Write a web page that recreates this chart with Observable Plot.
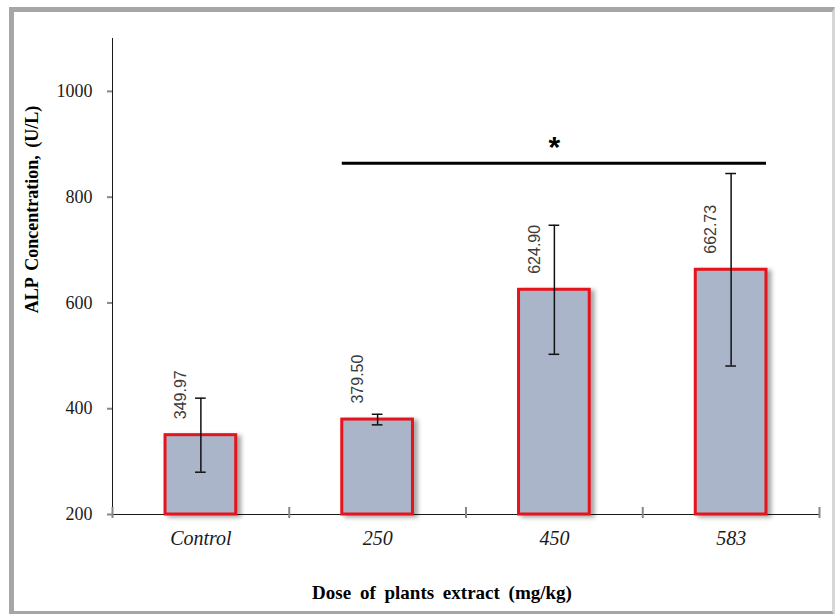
<!DOCTYPE html>
<html>
<head>
<meta charset="utf-8">
<script src="https://cdn.jsdelivr.net/npm/d3@7"></script>
<script src="https://cdn.jsdelivr.net/npm/@observablehq/plot@0.6"></script>
<style>
  html, body { margin: 0; padding: 0; background: #fff; }
  #wrap { position: relative; width: 835px; height: 614px; overflow: hidden; }
  #frame { position: absolute; left: 9px; top: 7px; width: 818px; height: 599px;
           border: 5px solid #a6a6a6; border-right: 3px solid #d6d6d6; }
  #chart { position: absolute; left: 0; top: 0; }
  #chart svg { background: transparent !important; }
  [aria-label^="y-axis"] line, [aria-label^="y-axis"] path,
  [aria-label^="x-axis"] line, [aria-label^="x-axis"] path { stroke: #878787; stroke-width: 2px; }
  [aria-label^="y-axis"] text { fill: #1a1a1a; font-family: "Liberation Serif", serif; font-size: 18px; }
  [aria-label^="x-axis"] text { fill: #1a1a1a; font-family: "Liberation Serif", serif; font-size: 20px; font-style: italic; }
  g[aria-label="bar"] rect { filter: drop-shadow(4px 2px 2px rgba(0,0,0,0.35)); }
  g[aria-description="x-title"] text { word-spacing: 4px; }
  g[aria-description="y-title"] text { word-spacing: 3px; }
</style>
</head>
<body>
<div id="wrap"><div id="frame"></div><div id="chart"></div></div>
<script>
// ---- data ----
const categories = ["Control", "250", "450", "583"];
const means = [349.97, 379.50, 624.90, 662.73];
const sds = [70, 10, 122, 182];
const yTicks = [200, 400, 600, 800, 1000];
const yDomain = [200, 1100];
const sigFrom = "250";
const sigTo = "583";
const sigAt = "450";
const sigY = 864;
const sigLabel = "*";
const xTitle = "Dose of plants extract (mg/kg)";
const yTitle = "ALP Concentration, (U/L)";

// ---- layout ----
const W = 835, H = 614;
const mL = 112, mR = 16, mT = 38, mB = 100;
const step = (W - mL - mR) / categories.length;

const rows = categories.map((c, i) => ({cat: c, mean: means[i], sd: sds[i]}));
const sig = [{from: sigFrom, to: sigTo, at: sigAt, y: sigY, label: sigLabel}];
const lastCat = [categories[categories.length - 1]];

const chart = Plot.plot({
  width: W,
  height: H,
  marginLeft: mL,
  marginRight: mR,
  marginTop: mT,
  marginBottom: mB,
  style: {fontFamily: "Liberation Serif, serif", fontSize: "18px", color: "#1a1a1a", background: "transparent", overflow: "visible"},
  x: {type: "band", domain: categories, paddingInner: 0.6, paddingOuter: 0.3, round: false,
      tickSize: 0, tickPadding: 16, line: true, label: null},
  y: {domain: yDomain, ticks: yTicks, tickFormat: d => String(d), tickSize: 5, tickPadding: 15,
      line: true, label: null},
  marks: [
    // category boundary ticks on the x axis
    Plot.ruleX(categories, {x: d => d, dx: -step / 2, y1: () => yDomain[0], y2: () => yDomain[0],
      insetTop: -7, insetBottom: -4, stroke: "#878787", strokeWidth: 2}),
    Plot.ruleX(lastCat, {x: d => d, dx: step / 2, y1: () => yDomain[0], y2: () => yDomain[0],
      insetTop: -7, insetBottom: -4, stroke: "#878787", strokeWidth: 2}),
    // bars
    Plot.barY(rows, {x: "cat", y1: () => yDomain[0], y2: "mean",
      fill: "#aab5c9", stroke: "#e5141c", strokeWidth: 3}),
    // error bars
    Plot.ruleX(rows, {x: "cat", y1: d => d.mean - d.sd, y2: d => d.mean + d.sd, stroke: "#111", strokeWidth: 1.5}),
    Plot.tickY(rows, {x: "cat", y: d => d.mean - d.sd, insetLeft: 30, insetRight: 30, stroke: "#111", strokeWidth: 1.5}),
    Plot.tickY(rows, {x: "cat", y: d => d.mean + d.sd, insetLeft: 30, insetRight: 30, stroke: "#111", strokeWidth: 1.5}),
    // value labels
    Plot.text(rows, {x: "cat", y: "mean", text: d => d.mean.toFixed(2), rotate: -90, textAnchor: "start",
      dx: -20, dy: -16, fontSize: 16, fontFamily: "Liberation Sans, sans-serif", fill: "#3a3a3a"}),
    // significance bracket
    Plot.ruleY(sig, {y: "y", x1: "from", x2: "to", stroke: "#000", strokeWidth: 3}),
    Plot.text(sig, {x: "at", y: "y", text: "label", lineAnchor: "bottom", dy: -6,
      fontSize: 30, fontWeight: "bold", fontFamily: "Liberation Sans, sans-serif", fill: "#000"}),
    // axis titles
    Plot.text([yTitle], {text: d => d, frameAnchor: "left", textAnchor: "middle", lineAnchor: "middle",
      dx: -80, dy: -67, rotate: -90,
      fontSize: 18, fontWeight: "bold", fontFamily: "Liberation Serif, serif", fill: "#000", ariaDescription: "y-title"}),
    Plot.text([xTitle], {text: d => d, frameAnchor: "bottom", textAnchor: "middle", lineAnchor: "middle",
      dx: -24, dy: 78,
      fontSize: 19, fontWeight: "bold", fontFamily: "Liberation Serif, serif", fill: "#000", ariaDescription: "x-title"})
  ]
});
document.getElementById("chart").appendChild(chart);
</script>
</body>
</html>
